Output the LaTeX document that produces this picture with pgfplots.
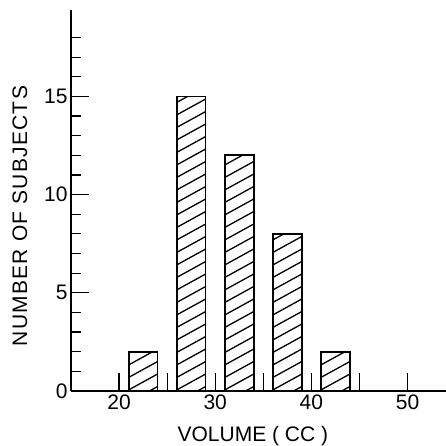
\documentclass[border=0pt]{standalone}
\usepackage{fontspec}
\setmainfont{Liberation Sans}
\usepackage{pgfplots}
\pgfplotsset{compat=1.18}
\newcommand{\hatchlines}{%
  \pgftransformreset
  \pgfsetlinewidth{1.3pt}%
  \foreach \k in {-3,...,25}{%
    \pgfpathmoveto{\pgfpointadd{\pgfpointanchor{path picture bounding box}{south west}}{\pgfpoint{-2pt}{\k*12.5pt}}}%
    \pgfpathlineto{\pgfpointadd{\pgfpointanchor{path picture bounding box}{south west}}{\pgfpoint{38pt}{\k*12.5pt+22pt}}}%
  }%
  \pgfusepath{stroke}%
}
\pgfplotsset{hbar/.style={ybar, bar width=3, draw=black, line width=1.7pt, fill=white, path picture={\hatchlines}}}
\begin{document}
\begin{tikzpicture}
\begin{axis}[
 scale only axis, width=375pt, height=381pt,
 xmin=15, xmax=54, ymin=0, ymax=19.4,
 axis x line*=bottom, axis y line*=left,
 axis line style={line width=1.4pt},
 xtick={20,25,...,50}, xticklabels={20,,30,,40,,50},
 ytick={0,5,10,15}, minor ytick={1,...,18},
 tick align=inside,
 major tick length=18pt, minor tick length=10pt,
 tick style={line width=1.2pt, black},
 every tick label/.append style={font=\fontsize{21}{21}\selectfont},
 /pgf/number format/assume math mode=true,
 xlabel={VOLUME ( CC )},
 ylabel={NUMBER OF SUBJECTS},
 label style={font=\fontsize{21}{21}\selectfont},
 xlabel style={at={(axis description cs:0.485,-0.117)}, anchor=center},
 ylabel style={at={(axis description cs:-0.136,0.459)}, anchor=center, font=\fontsize{21}{21}\selectfont\addfontfeature{LetterSpace=6}},
 clip=false,
]
\addplot[hbar] coordinates {(22.5,2)};
\addplot[hbar] coordinates {(27.5,15)};
\addplot[hbar] coordinates {(32.5,12)};
\addplot[hbar] coordinates {(37.5,8)};
\addplot[hbar] coordinates {(42.5,2)};
\coordinate (bl) at (rel axis cs:0,0);
\coordinate (tr) at (rel axis cs:1,1);
\end{axis}
\pgfresetboundingbox
\path ([shift={(-71pt,-54pt)}]bl) rectangle ([shift={(0pt,10pt)}]tr);
\end{tikzpicture}
\end{document}
